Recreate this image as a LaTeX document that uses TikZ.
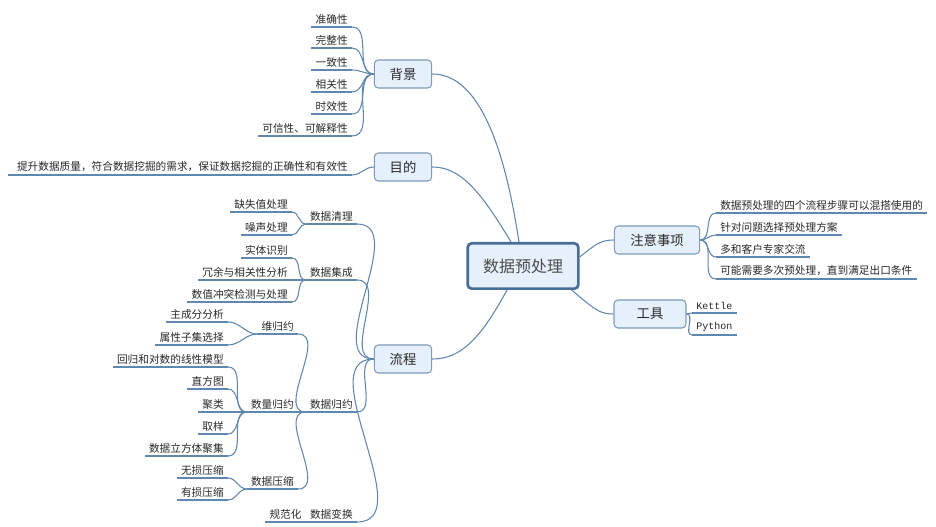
\documentclass[tikz,border=0pt]{standalone}
\usepackage{fontspec}
\setmainfont{Noto Sans CJK SC}
\newfontfamily\monof{Liberation Mono}
\definecolor{lnc}{RGB}{95,135,175}
\definecolor{boxf}{RGB}{230,240,250}
\definecolor{boxd}{RGB}{125,155,185}
\definecolor{rootd}{RGB}{70,110,150}
\definecolor{txt}{RGB}{40,40,40}
\tikzset{
  ln/.style={draw=lnc, line width=0.8pt},
  leaf/.style={font=\fontsize{8}{9}\selectfont, text=txt, inner xsep=3pt, inner ysep=2pt},
  rleaf/.style={leaf, anchor=south west},
  box/.style={draw=boxd, fill=boxf, rounded corners=3pt, line width=0.8pt, font=\fontsize{10}{12}\selectfont, text=txt, minimum height=21pt, minimum width=43pt},
  rootbox/.style={draw=rootd, fill=boxf, rounded corners=3pt, line width=2pt, font=\fontsize{12}{14}\selectfont, text=black!70, minimum height=34pt, minimum width=83pt}
}
\newcommand\lf[4]{\node[leaf,anchor=south east] (#1) at (#2,#3) {#4};\draw[ln] (#1.south west)--(#1.south east);}
\newcommand\rl[4]{\node[rleaf] (#1) at (#2,#3) {#4};\draw[ln] (#1.south west)--(#1.south east);}
\newcommand\cn[2]{\draw[ln] (#1) to[out=0,in=180] (#2);}
\begin{document}
\begin{tikzpicture}[x=0.75pt,y=-0.75pt]
\useasboundingbox (0,0) rectangle (936,527);
\node[rootbox] (root) at (523,266) {数据预处理};
\node[box] (bj) at (403,74) {背景};
\node[box] (md) at (403,167) {目的};
\node[box] (lc) at (403,359) {流程};
\node[box, minimum width=64pt] (zy) at (657,240) {注意事项};
\node[box, minimum width=54pt] (gj) at (650,314) {工具};
\coordinate (bjL) at (bj.west); \coordinate (mdL) at (md.west); \coordinate (lcL) at (lc.west);
\coordinate (zyR) at (zy.east); \coordinate (gjR) at (gj.east);
% root links
\draw[ln] (root.north) ++(-4,0) coordinate (rt1) (rt1) .. controls (505,150) and (480,74) .. (bj.east);
\draw[ln] (root.north) ++(-12,0) coordinate (rt2) (rt2) .. controls (480,190) and (460,167) .. (md.east);
\draw[ln] (root.south) ++(-16,0) coordinate (rb1) (rb1) .. controls (480,340) and (460,359) .. (lc.east);
\draw[ln] (root.east) ++(0,-9) coordinate (rr1) (rr1) .. controls (595,245) and (600,240) .. (zy.west);
\draw[ln] (root.south east) ++(-8,0) coordinate (rr2) (rr2) .. controls (595,310) and (600,314) .. (gj.west);
% 背景
\lf{b1}{352}{27}{准确性}\lf{b2}{352}{48}{完整性}\lf{b3}{352}{70}{一致性}
\lf{b4}{352}{92}{相关性}\lf{b5}{352}{114}{时效性}\lf{b6}{352}{136}{可信性、可解释性}
\foreach \n in {b1,b2,b3,b4,b5,b6}{\cn{\n.south east}{bjL}}
% 目的
\node[leaf,anchor=south east] (m1) at (352,175) {提升数据质量，符合数据挖掘的需求，保证数据挖掘的正确性和有效性};
\draw[ln] (8,175) -- (m1.south east); \cn{m1.south east}{mdL}
% 流程
\lf{q1}{357}{224}{数据清理}\lf{q2}{357}{280}{数据集成}\lf{q3}{357}{412}{数据归约}\lf{q4}{357}{522}{数据变换}
\foreach \n in {q1,q2,q3,q4}{\cn{\n.south east}{lcL}}
\lf{c1}{292}{212}{缺失值处理}\lf{c2}{292}{235}{噪声处理}
\foreach \n in {c1,c2}{\cn{\n.south east}{q1.south west}}
\lf{i1}{292}{258}{实体识别}\lf{i2}{292}{280}{冗余与相关性分析}\lf{i3}{292}{302}{数值冲突检测与处理}
\foreach \n in {i1,i2,i3}{\cn{\n.south east}{q2.south west}}
\lf{r1}{298}{334}{维归约}\lf{r2}{298}{412}{数量归约}\lf{r3}{298}{489}{数据压缩}
\foreach \n in {r1,r2,r3}{\cn{\n.south east}{q3.south west}}
\lf{w1}{228}{322}{主成分分析}\lf{w2}{228}{345}{属性子集选择}
\foreach \n in {w1,w2}{\cn{\n.south east}{r1.south west}}
\lf{s1}{228}{367}{回归和对数的线性模型}\lf{s2}{228}{389}{直方图}\lf{s3}{228}{412}{聚类}\lf{s4}{228}{434}{取样}\lf{s5}{228}{456}{数据立方体聚集}
\foreach \n in {s1,s2,s3,s4,s5}{\cn{\n.south east}{r2.south west}}
\lf{y1}{228}{478}{无损压缩}\lf{y2}{228}{500}{有损压缩}
\foreach \n in {y1,y2}{\cn{\n.south east}{r3.south west}}
\node[leaf,anchor=south east] (g1) at (q4.south west) {规范化};
\draw[ln] (g1.south west) -- (g1.south east);
% 注意事项
\rl{z1}{716}{213}{数据预处理的四个流程步骤可以混搭使用的}
\rl{z2}{716}{235}{针对问题选择预处理方案}
\rl{z3}{716}{257}{多和客户专家交流}
\rl{z4}{716}{279}{可能需要多次预处理，直到满足出口条件}
\foreach \n in {z1,z2,z3,z4}{\draw[ln] (zyR) to[out=0,in=180] (\n.south west);}
% 工具
\node[rleaf,font=\monof\fontsize{7.5}{9}\selectfont] (k1) at (692,313) {Kettle};
\draw[ln] (k1.south west)--(k1.south east);
\node[rleaf,font=\monof\fontsize{7.5}{9}\selectfont] (k2) at (692,335) {Python};
\draw[ln] (k2.south west)--(k2.south east);
\foreach \n in {k1,k2}{\draw[ln] (gjR) to[out=0,in=180] (\n.south west);}
\end{tikzpicture}
\end{document}
